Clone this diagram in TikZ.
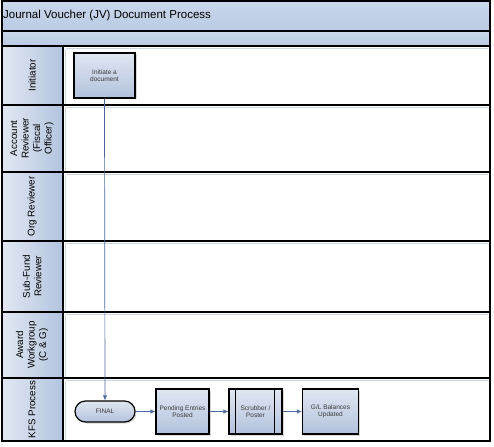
\documentclass[tikz,border=0pt]{standalone}
\usepackage{fontspec}
\setmainfont{Liberation Sans}
\usetikzlibrary{arrows.meta,shadows}
\definecolor{bandtop}{HTML}{CAD7EC}
\definecolor{bandbot}{HTML}{BACBE4}
\definecolor{headL}{HTML}{E2E8F2}
\definecolor{headR}{HTML}{B2C4DF}
\definecolor{boxtop}{HTML}{E0E6F1}
\definecolor{boxbot}{HTML}{B2C2DD}
\definecolor{conn}{HTML}{4C6A9E}
\definecolor{faint}{HTML}{CDD5E2}
\definecolor{boxtext}{HTML}{3A3A3A}
\tikzset{
  sep/.style={draw=black, line width=1.3pt},
  lanelabel/.style={rotate=90, align=center, font=\fontsize{9.8}{11.5}\selectfont, text=black, inner sep=0pt},
  procbox/.style={draw=black, line width=1.2pt, top color=boxtop, bottom color=boxbot,
    align=center, font=\fontsize{6.5}{7.6}\selectfont, text=boxtext, inner sep=1pt,
    drop shadow={shadow xshift=1.5pt, shadow yshift=-1.5pt, fill=black!25, opacity=0.6}},
  flow/.style={draw=conn, line width=0.7pt, -{Latex[length=5pt,width=4.5pt]}},
}
\begin{document}
\begin{tikzpicture}[x=1pt,y=-1pt]
\useasboundingbox (0,0) rectangle (494,446);
\fill[white] (0,0) rectangle (494,446);
% bands
\shade[top color=bandtop, bottom color=bandbot] (2,1) rectangle (490,31);
\shade[top color=bandtop, bottom color=bandbot] (2,31) rectangle (490,46);
% lane heads
\shade[left color=headL, right color=headR] (2,46) rectangle (63,441);
% faint inner borders of lanes
\foreach \a/\b in {46/105,105/172,172/241,241/312,312/378,378/441}{
  \draw[faint, line width=0.8pt] (65.5,\a+2.8) -- (488,\a+2.8);
  \draw[faint, line width=0.8pt] (65.5,\a+2.8) -- (65.5,\b-1);
}
% frame and separators
\draw[sep] (2,1) rectangle (490,441);
\draw[sep] (2,31) -- (490,31);
\draw[sep] (2,46) -- (490,46);
\foreach \yy in {105,172,241,312,378}{\draw[sep] (2,\yy) -- (490,\yy);}
\draw[sep] (63,46) -- (63,441);
% title
\node[anchor=west, font=\fontsize{11.5}{13}\selectfont, inner sep=0pt] (title) at (3,16) {Journal Voucher (JV) Document Process};
% lane labels
\node[lanelabel] (l1) at (32,75.5) {Initiator};
\node[lanelabel] (l2) at (32,138.5) {Account\\Reviewer\\(Fiscal\\Officer)};
\node[lanelabel] (l3) at (32,206.5) {Org Reviewer};
\node[lanelabel] (l4) at (32,276.5) {Sub-Fund\\Reviewer};
\node[lanelabel] (l5) at (32,345) {Award\\Workgroup\\(C \& G)};
\node[lanelabel] (l6) at (32,409.5) {KFS Process};
% process boxes
\node[procbox, minimum width=61pt, minimum height=45pt] (init) at (104.5,75.5) {Initiate a\\document};
\node[procbox, minimum width=60pt, minimum height=21pt, rounded corners=10.5pt] (final) at (105,411.5) {FINAL};
\node[procbox, minimum width=53pt, minimum height=45pt] (pend) at (182.5,411.5) {Pending Entries\\Posted};
\node[procbox, minimum width=53pt, minimum height=45pt] (scrub) at (255.5,411.5) {Scrubber /\\Poster};
\draw[black, line width=1.2pt] ([xshift=7pt]scrub.north west) -- ([xshift=7pt]scrub.south west);
\draw[black, line width=1.2pt] ([xshift=-8pt]scrub.north east) -- ([xshift=-8pt]scrub.south east);
\node[procbox, minimum width=56pt, minimum height=45pt] (gl) at (330.5,411.5) {G/L Balances\\Updated};
% connectors
\draw[flow] (init.south) -- (final.north);
\draw[flow] (final.east) -- (pend.west);
\draw[flow] (pend.east) -- (scrub.west);
\draw[flow] (scrub.east) -- (gl.west);
\end{tikzpicture}
\end{document}
